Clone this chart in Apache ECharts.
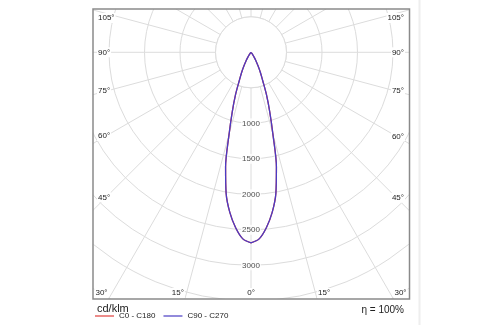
<!DOCTYPE html>
<html>
<head>
<meta charset="utf-8">
<script src="https://cdn.jsdelivr.net/npm/echarts@6/dist/echarts.min.js"></script>
<style>
  html, body { margin: 0; padding: 0; background: #fff; }
  #chart { width: 500px; height: 325px; }
</style>
</head>
<body>
<div id="chart"></div>
<script>
// Luminous intensity distribution (cd/klm), gamma angle measured from nadir
const gammaAngles = [0, 2.5, 5, 7.5, 10, 12.5, 15, 17.5, 20, 22.5, 25, 27.5, 30, 32.5, 35, 40, 45, 50, 90, 180];
const intensityC0C180 = [2683, 2630, 2480, 2278, 2017, 1654, 1190, 876, 639, 430, 313, 214, 144, 85, 45, 15, 5, 0, 0, 0];
const intensityC90C270 = [2683, 2630, 2480, 2278, 2017, 1654, 1190, 876, 639, 430, 313, 214, 144, 85, 45, 15, 5, 0, 0, 0];
const radialTicks = [1000, 1500, 2000, 2500, 3000];
const angleTickLabels = [0, 15, 30, 45, 60, 75, 90, 105];
const seriesNames = ['C0 - C180', 'C90 - C270'];
const unitLabel = 'cd/klm';
const efficiencyLabel = 'η = 100%';

// layout of the diagram
const cx = 251, cy = 52.3;
const outerR = 319.5;          // radius of the 4500 cd/klm ring
const radiusMax = 4500;
const innerR = outerR * 500 / radiusMax;   // blank hub out to 500 cd/klm
const box = { left: 93, top: 9, right: 409.5, bottom: 299 };
const gridColor = '#dcdcdc';
const textColor = '#222';
const font = 'Liberation Sans, Arial, sans-serif';

// closed curve: one half plane on each side of the nadir axis
function loop(values) {
  const pts = [];
  for (let i = 0; i < gammaAngles.length; i++) pts.push([values[i], gammaAngles[i]]);
  for (let i = gammaAngles.length - 1; i >= 0; i--) pts.push([values[i], 360 - gammaAngles[i]]);
  return pts;
}

// gamma labels sit where each ray leaves the frame
function angleLabelElements() {
  const els = [];
  angleTickLabels.forEach(function (a) {
    const sides = a === 0 ? [0] : [-1, 1];
    sides.forEach(function (s) {
      const rad = a * Math.PI / 180;
      const dx = Math.sin(rad), dy = Math.cos(rad);
      const edgeX = s < 0 ? box.left : box.right;
      const tSide = s === 0 ? Infinity : (edgeX - cx) / (s * dx);
      const tBottom = dy > 1e-9 ? (box.bottom - cy) / dy : Infinity;
      let x, y, align;
      if (tBottom <= tSide) {
        x = s === 0 ? cx : cx + s * dx * tBottom;
        y = box.bottom - 6;
        align = s < 0 ? 'right' : (s > 0 ? 'left' : 'center');
      } else {
        const xr = s < 0 ? box.left + 13 : box.right - 13;
        const d = Math.abs(xr - cx);
        y = Math.max(cy + d * dy / dx, box.top + 9);
        x = s < 0 ? box.left + 4 : box.right - 4.5;
        align = s < 0 ? 'left' : 'right';
      }
      els.push({
        type: 'text', z: 110, x: x, y: y,
        style: {
          text: a + '°', fill: textColor, font: '8px ' + font,
          align: align, verticalAlign: 'middle',
          backgroundColor: '#fff', padding: [1, 1]
        }
      });
    });
  });
  return els;
}

const chart = echarts.init(document.getElementById('chart'), null, { renderer: 'canvas' });

const curveStyle = { symbol: 'none', clip: false, smooth: 0.3, type: 'line', coordinateSystem: 'polar' };

const option = {
  animation: false,
  backgroundColor: '#fff',
  polar: { center: [cx, cy], radius: [0, outerR] },
  angleAxis: {
    type: 'value', min: 0, max: 360, interval: 15, startAngle: 270, clockwise: true,
    axisLine: { show: false }, axisTick: { show: false }, axisLabel: { show: false },
    splitLine: { show: true, lineStyle: { color: gridColor, width: 1 } }
  },
  radiusAxis: {
    type: 'value', min: 0, max: radiusMax, interval: 500,
    axisLine: { show: false }, axisTick: { show: false }, axisLabel: { show: false },
    splitLine: { show: true, lineStyle: { color: gridColor, width: 1 } }
  },
  legend: {
    data: seriesNames, left: 95, top: 312, z: 120,
    icon: 'rect', itemWidth: 19, itemHeight: 1.2, itemGap: 8,
    padding: 0,
    textStyle: { fontSize: 8, color: textColor, fontFamily: font }
  },
  series: [
    Object.assign({
      name: seriesNames[0], data: loop(intensityC0C180), z: 3,
      itemStyle: { color: '#e0403c' }, lineStyle: { color: '#e0403c', width: 1.3 }
    }, curveStyle),
    Object.assign({
      name: seriesNames[1], data: loop(intensityC90C270), z: 4,
      itemStyle: { color: '#4a3cc4' }, lineStyle: { color: '#4a3cc4', width: 1.3 }
    }, curveStyle),
    {
      type: 'scatter', coordinateSystem: 'polar', z: 5, silent: true,
      symbolSize: 0,
      data: radialTicks.map(function (v) { return [v, 0]; }),
      label: {
        show: true, position: 'inside',
        formatter: function (p) { return String(p.value[0]); },
        fontSize: 8, color: textColor, fontFamily: font,
        backgroundColor: '#fff', padding: [1, 1]
      }
    }
  ],
  graphic: [
    // blank hub: rays start at the 500 ring
    { type: 'circle', z: 1, shape: { cx: cx, cy: cy, r: innerR }, style: { fill: '#fff', stroke: gridColor, lineWidth: 1 } },
    // mask the grid outside the frame
    { type: 'rect', z: 100, shape: { x: 0, y: 0, width: 500, height: box.top }, style: { fill: '#fff' } },
    { type: 'rect', z: 100, shape: { x: 0, y: 0, width: box.left, height: 325 }, style: { fill: '#fff' } },
    { type: 'rect', z: 100, shape: { x: box.right, y: 0, width: 500 - box.right, height: 325 }, style: { fill: '#fff' } },
    { type: 'rect', z: 100, shape: { x: 0, y: box.bottom, width: 500, height: 325 - box.bottom }, style: { fill: '#fff' } },
    // frame
    { type: 'rect', z: 105, shape: { x: box.left, y: box.top, width: box.right - box.left, height: box.bottom - box.top },
      style: { fill: null, stroke: '#8a8a8a', lineWidth: 1.5 } },
    { type: 'line', z: 105, shape: { x1: 419.5, y1: 0, x2: 419.5, y2: 325 },
      style: { stroke: '#eeeeee', lineWidth: 2 } },
    { type: 'text', z: 110, x: 97, y: 309, style: { text: unitLabel, fill: textColor, font: '11px ' + font, verticalAlign: 'middle' } },
    { type: 'text', z: 110, x: 404, y: 310, style: { text: efficiencyLabel, fill: textColor, font: '10px ' + font, align: 'right', verticalAlign: 'middle' } }
  ].concat(angleLabelElements())
};

chart.setOption(option);
</script>
</body>
</html>
